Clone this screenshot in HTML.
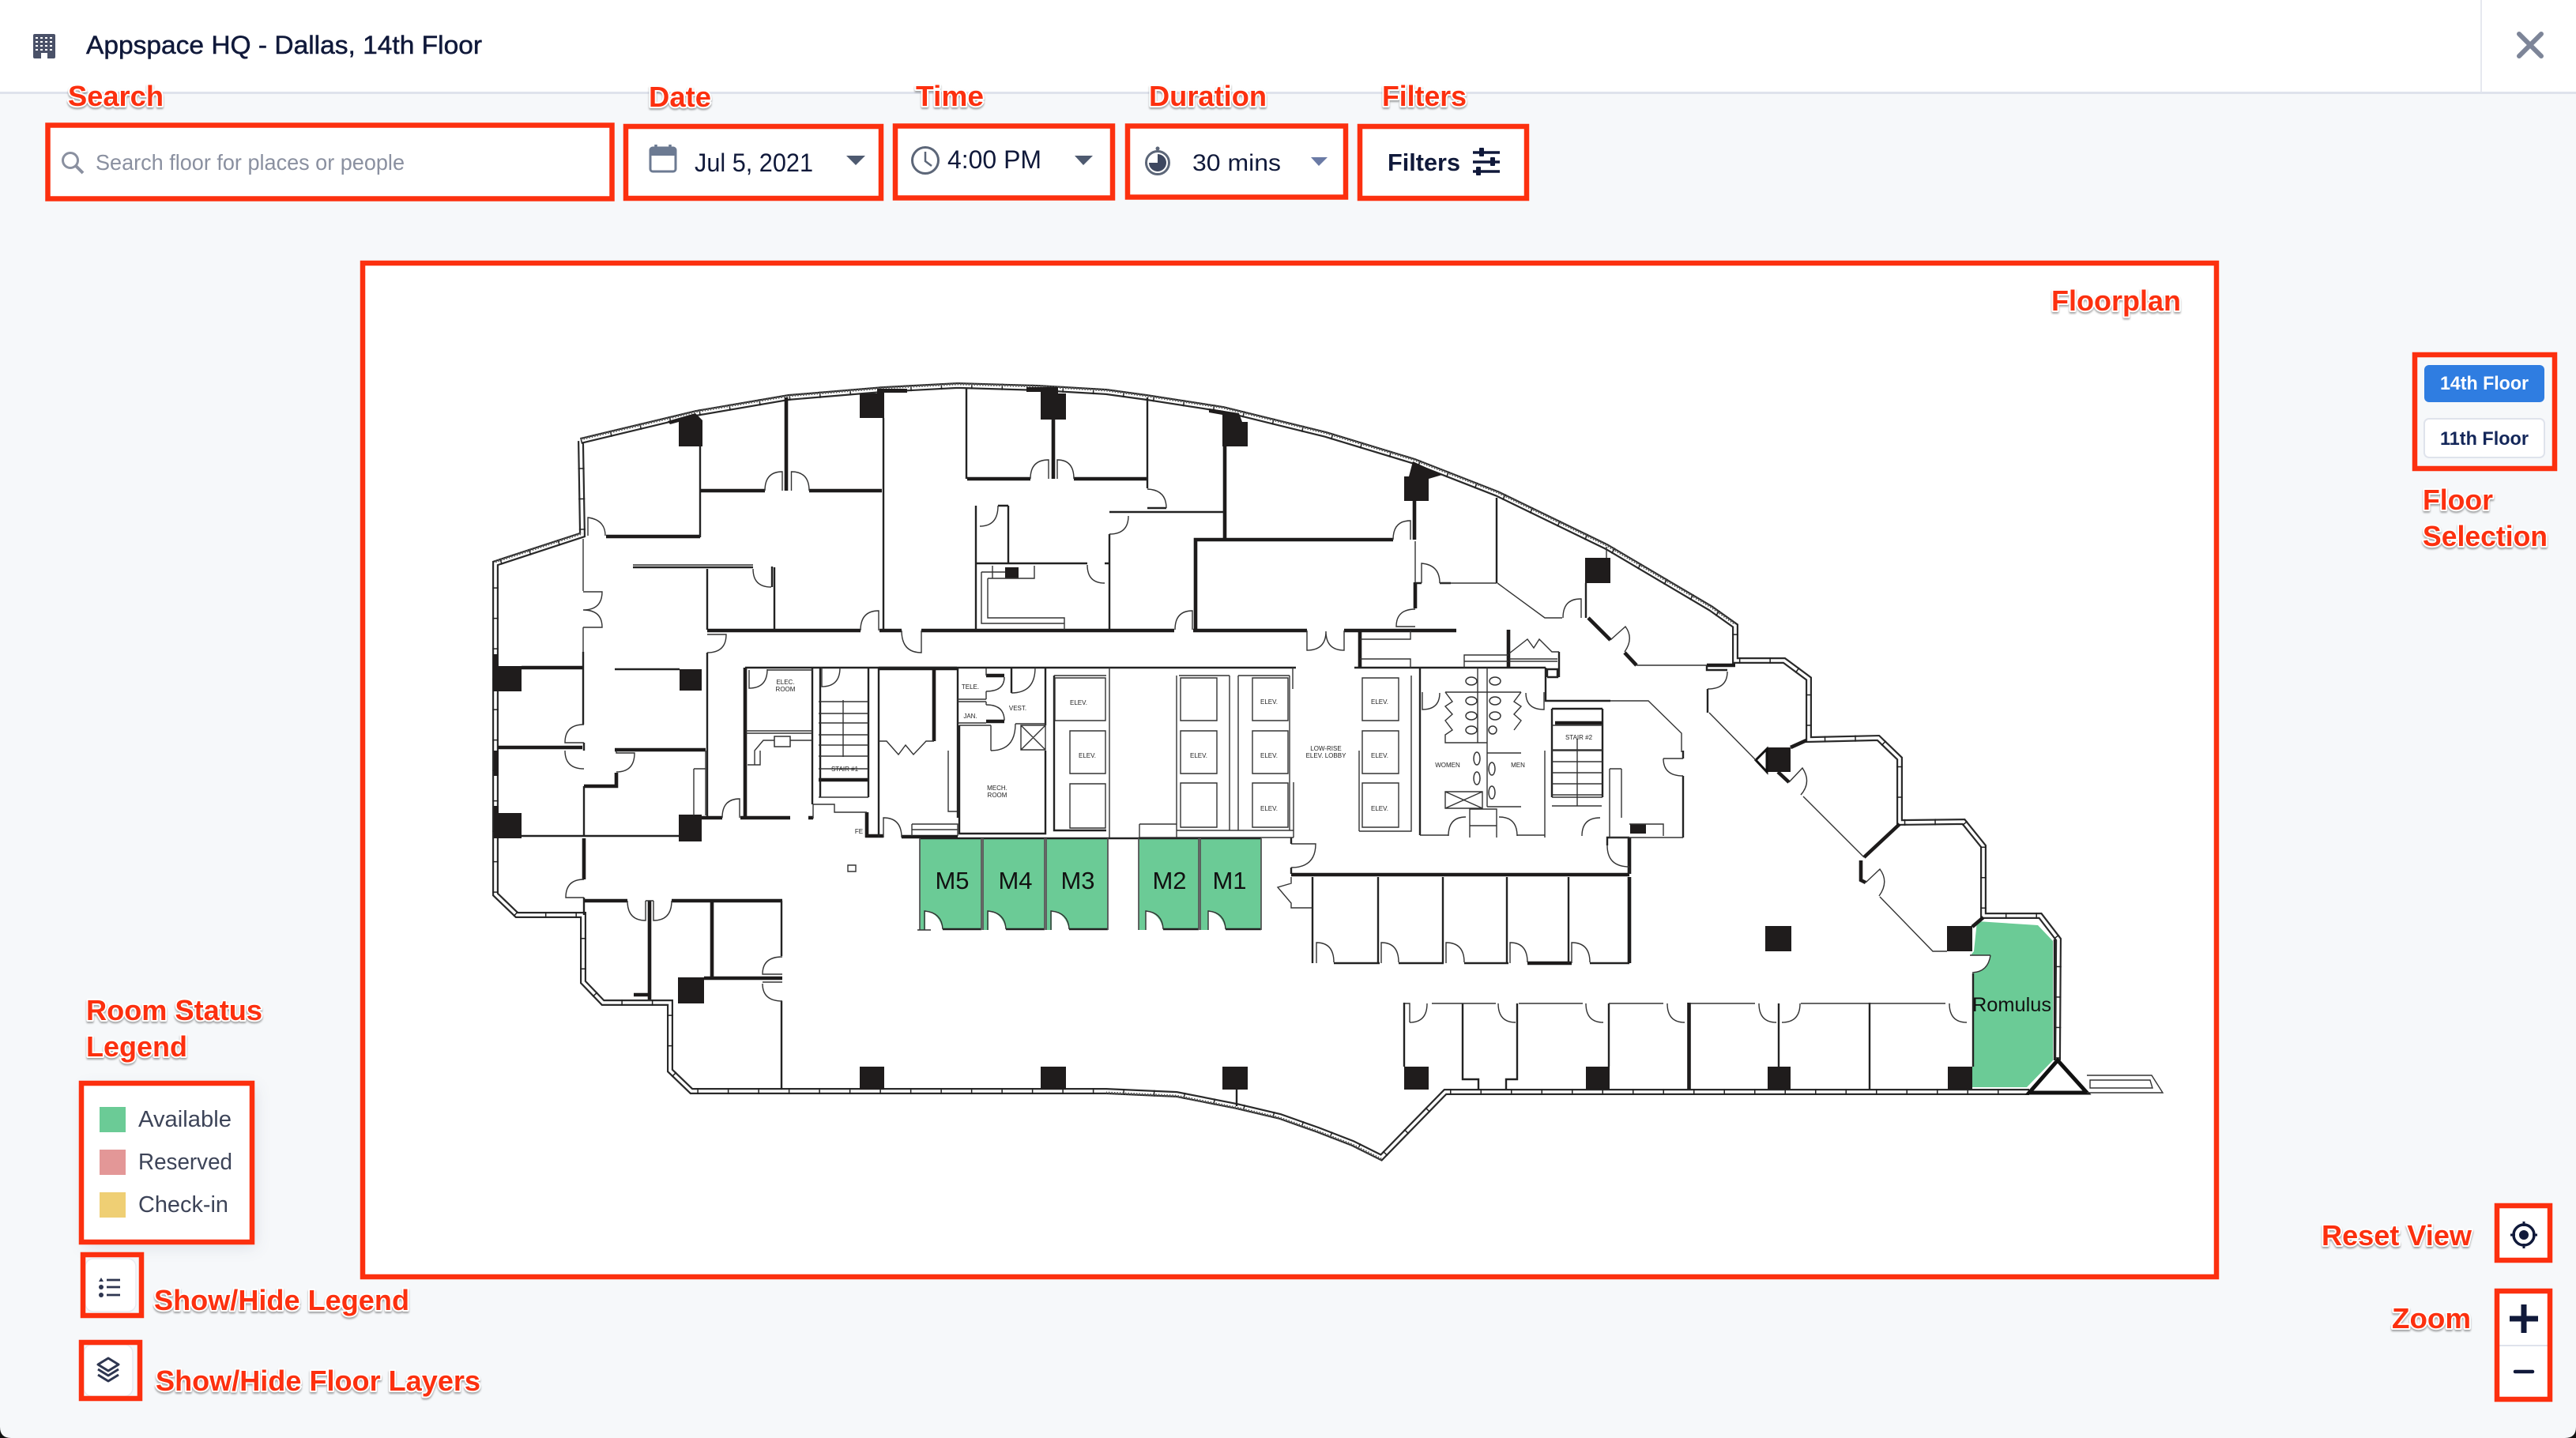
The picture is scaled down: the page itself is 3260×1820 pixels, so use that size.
<!DOCTYPE html>
<html><head><meta charset="utf-8"><title>Appspace HQ floor map</title>
<style>
html,body{margin:0;padding:0;background:#f6f8fa}
svg{display:block}
text{font-family:"Liberation Sans",sans-serif}
.l{font-weight:700;font-size:36px;fill:#fc300f;stroke:#fff;stroke-width:4px;paint-order:stroke;stroke-linejoin:round;filter:drop-shadow(0 2px 1px rgba(0,0,0,.35))}
.r{fill:none;stroke:#fc300f;stroke-width:6.5}
.a{fill:none;stroke:#333;stroke-width:1.4}
.b{fill:none;stroke:#222;stroke-width:2.4}
.c{fill:none;stroke:#1d1b1b;stroke-width:4.6}
.g{fill:none;stroke:#555;stroke-width:1.8}
.t{font-size:8px;fill:#222;text-anchor:middle}
.k{fill:#1f1c1c}
.m{font-size:31px;fill:#111;text-anchor:middle}
.u{font-size:29px;fill:#3d4458}
</style></head><body>
<svg width="3260" height="1820" viewBox="0 0 3260 1820" xmlns="http://www.w3.org/2000/svg">
<rect width="3260" height="1820" fill="#f6f8fa"/>
<rect width="3260" height="116" fill="#fff"/>
<rect y="116" width="3260" height="3" fill="#dfe3ec"/>
<rect x="3139" width="2" height="116" fill="#e6e8ef"/>
<path d="M0 1806Q0 1820 14 1820L0 1820ZM3260 1806Q3260 1820 3246 1820L3260 1820Z" fill="#111"/>

<!-- header -->
<rect x="42" y="43" width="28" height="31" rx="2" fill="#4a5168"/>
<g stroke="#fff" stroke-width="2" stroke-dasharray="3 3"><path d="M45 48H68M45 53H68M45 58H68M45 63H68"/></g>
<rect x="52" y="67" width="8" height="7" fill="#fff"/>
<text x="109" y="68" font-size="32" fill="#10193a" stroke="#10193a" stroke-width=".5" textLength="501" lengthAdjust="spacingAndGlyphs">Appspace HQ - Dallas, 14th Floor</text>
<path d="M3188 43L3216 71M3216 43L3188 71" stroke="#7d8598" stroke-width="6" stroke-linecap="round" fill="none"/>

<!-- top controls -->
<g fill="#fff">
<rect x="60" y="158" width="716" height="94"/>
<rect x="792" y="160" width="323" height="91"/>
<rect x="1133" y="159" width="275" height="92"/>
<rect x="1427" y="159" width="276" height="91"/>
<rect x="1721" y="160" width="211" height="91"/>
</g>
<circle cx="89" cy="203" r="9.5" fill="none" stroke="#8a90a0" stroke-width="3"/>
<path d="M96 210L105 219" stroke="#8a90a0" stroke-width="4"/>
<text x="121" y="215" font-size="28" fill="#8a90a0" textLength="391" lengthAdjust="spacingAndGlyphs">Search floor for places or people</text>
<rect x="823" y="187" width="32" height="30" rx="3" fill="#fff" stroke="#6c7a92" stroke-width="3"/>
<rect x="823" y="187" width="32" height="10" fill="#6c7a92"/>
<path d="M830 183V190M848 183V190" stroke="#6c7a92" stroke-width="3.5"/>
<text x="879" y="217" font-size="32" fill="#10193a" textLength="150" lengthAdjust="spacingAndGlyphs">Jul 5, 2021</text>
<path d="M1071 197H1095L1083 209Z" fill="#4e5a70"/>
<circle cx="1171" cy="203" r="16.5" fill="#fff" stroke="#5c6678" stroke-width="3"/>
<path d="M1171 192V204L1179 210" fill="none" stroke="#5c6678" stroke-width="2.5"/>
<text x="1199" y="213" font-size="32" fill="#10193a" textLength="119" lengthAdjust="spacingAndGlyphs">4:00 PM</text>
<path d="M1360 197H1383L1371 209Z" fill="#4e5a70"/>
<circle cx="1465" cy="206" r="14.5" fill="#fff" stroke="#5c6678" stroke-width="3"/>
<path d="M1465 206V195A11 11 0 1 1 1454 206Z" fill="#3e4860"/>
<circle cx="1465" cy="188" r="2.5" fill="#5c6678"/>
<text x="1509" y="216" font-size="30" fill="#10193a" textLength="112" lengthAdjust="spacingAndGlyphs">30 mins</text>
<path d="M1659 199H1680L1669 210Z" fill="#6a7aa5"/>
<text x="1756" y="216" font-size="31" font-weight="700" fill="#10193a" textLength="92" lengthAdjust="spacingAndGlyphs">Filters</text>
<g stroke="#10193a" stroke-width="3.5" fill="none"><path d="M1864 193H1898M1864 205H1898M1864 217H1898"/></g>
<g fill="#10193a"><rect x="1872" y="187" width="6" height="11" rx="1"/><rect x="1886" y="199" width="6" height="11" rx="1"/><rect x="1868" y="211" width="6" height="11" rx="1"/></g>

<rect class="r" x="60.5" y="158.5" width="714" height="93"/>
<rect class="r" x="792" y="160" width="323" height="91"/>
<rect class="r" x="1133" y="159.500" width="275" height="91"/>
<rect class="r" x="1427" y="159.500" width="276" height="90"/>
<rect class="r" x="1721" y="160" width="211" height="91"/>

<!-- floorplan panel -->
<rect x="459" y="333" width="2346" height="1283" fill="#fff"/>

<!-- green rooms -->
<g fill="#6bcb96">
<path d="M1164 1061H1242V1177H1193Q1189 1156 1171 1153V1177H1164Z"/>
<path d="M1244 1061H1322V1177H1273Q1269 1156 1251 1153V1177H1244Z"/>
<path d="M1324 1061H1402V1177H1353Q1349 1156 1331 1153V1177H1324Z"/>
<path d="M1441 1061H1517V1177H1472Q1468 1156 1450 1153V1177H1441Z"/>
<path d="M1519 1061H1596V1177H1551Q1547 1156 1529 1153V1177H1519Z"/>
<path d="M2502 1166L2579 1171L2598 1191V1342L2565 1376H2496V1232Q2516 1230 2519 1209H2494L2498 1204Z"/>
</g>

<!-- exterior double walls -->
<defs>
<path id="ow" d="M735 558L881 523L998 503L1118 493L1212 488L1314 491L1400 496L1451 503L1548 518L1678 550L1790 584L1895 625L2033 692L2165 770L2196 792V836H2258L2289 859V936L2377 934L2404 960V1041L2485 1040L2510 1071V1159H2582L2605 1189L2604 1342M2568 1382H1829L1748 1465L1712 1447L1668 1430L1620 1413L1565 1400L1489 1385L1400 1381H875L848 1355V1269H763L738 1243V1158H654L627 1132V713L737 677L735 558"/>
<path id="arc" d="M735 556L881 521L998 501L1118 491L1212 486L1314 489L1400 494L1451 501L1548 516L1678 548L1790 582L1895 623L2033 690L2165 768L2196 790M627 711L737 675M1748 1467L1712 1449L1668 1432L1620 1415L1565 1402L1489 1387L1400 1383"/>
</defs>
<use href="#ow" fill="none" stroke="#2a2a2a" stroke-width="8"/>
<use href="#ow" fill="none" stroke="#fff" stroke-width="3.6"/>
<use href="#ow" fill="none" stroke="#222" stroke-width="8" stroke-dasharray="1.5 37"/>
<use href="#arc" fill="none" stroke="#555" stroke-width="3" stroke-dasharray="1.500 2"/>

<!-- far right balcony + triangle -->
<path d="M2604 1342L2568 1383H2641Z" fill="#fff" stroke="#111" stroke-width="5"/>
<path class="a" d="M2641 1361H2723L2737 1383H2641M2645 1367H2721L2724 1377H2645Z"/>

<!-- columns -->
<g class="k">
<path d="M859 534V565H889V532L880 523L845 533L848 537Z"/>
<path d="M1088 498H1110V492H1148V497H1119V529H1088Z"/>
<path d="M1299 490H1339V498H1349V531H1317V496H1299Z"/>
<path d="M1530 517L1568 523L1572 534H1579V565H1547V525L1530 522Z"/>
<path d="M1788 584L1825 601L1808 606V634H1777V603H1783Z"/>
<rect x="2006" y="706" width="32" height="32"/>
<path d="M624 828H630V843H660V875H630V875H624Z"/>
<rect x="860" y="847" width="28" height="27"/>
<rect x="625" y="950" width="6" height="32"/>
<path d="M625 1020H631V1029H660V1061H625Z"/>
<rect x="859" y="1031" width="29" height="34"/>
<rect x="858" y="1237" width="33" height="33"/>
<rect x="1088" y="1350" width="31" height="29"/>
<rect x="1317" y="1350" width="32" height="29"/>
<rect x="1547" y="1350" width="32" height="29"/>
<rect x="1777" y="1350" width="31" height="29"/>
<rect x="2007" y="1350" width="30" height="29"/>
<rect x="2237" y="1350" width="29" height="29"/>
<rect x="2465" y="1350" width="31" height="29"/>
<rect x="2234" y="1172" width="33" height="32"/>
<rect x="2464" y="1172" width="32" height="32"/>
<rect x="2236" y="946" width="30" height="31"/>
<rect x="1272" y="718" width="17" height="14"/>
<rect x="2063" y="1043" width="20" height="12"/>
</g>
<path d="M2222 962L2236 948V977Z" fill="#fff" stroke="#111" stroke-width="3"/>

<!-- thick interior walls -->
<path class="c" d="M767 679H886M887 621H968M1024 621H1116M1224 606H1304M1359 606H1451M995 503V621M1333 531V606M1550 565V683M1513 797V683H1763M1790 634V683M1791 737V770M895 798H1089M1113 798H1141M1166 798H1486M1510 798H1654M1701 798H1843M660 845H737M630 946H737M778 949H893M1112 846H1211M1182 846V938M1721 798V845M1909 797V845M2010 782L2038 810M2056 826L2071 842M2160 842H2196M2250 977L2264 990M2359 1085L2404 1043M2355 1089V1114L2361 1117M2496 1173L2510 1161M2266 946L2286 937M943 845V1033M888 1035H914M937 1035H1000M1023 1035H1029M1097 1028V1060M1095 1058H1118M1141 1059H1212M739 995H780V978M739 1061V1113M740 1140H794M850 1140H990M891 1238H990M802 1259H822V1265M901 1140V1237M822 1140V1258M2062 1060V1106M2062 1110V1219M1634 1107H2062M1933 1219H1989M2137.500 1269V1379M1248 855H1271M1248 913H1271M1968 915H2028M1036 987H1099"/>

<!-- medium walls -->
<path class="b" d="M886 565V680M1118 529V797M1223 492V606M1452 503V618M1404 648H1549M1404 676V797M1452 643H1476M2007 738V782M1894 630V738M1799 738H1791M1822 738H1836M2160 842V848H2186M2161 872V902M2600 1342V1189M801 718H953M895 720V797M980 718V797M977 717V743M895 826V1033M778 847H860M738 825V917M739 940V950M739 995V1058M660 1058H859M739 1136V1158M989 1140V1210M989 1267V1379M2130 950V960M2130 982V1060M1964 897H2028M1964 897V1009M2028 897V1009M2062 1060H2034V1070M2062 1097V1106M1634 1060V1068M1634 1098V1106M1661 1110V1219M1744 1110V1219M1826 1110V1219M1907 1110V1219M1985 1110V1219M1688 1219H1746M1770 1219H1827M1853 1219H1909M2012 1219H2062M2036 1270V1350M2251 1270V1350M1851 1270V1366H1871V1379M1920 1270V1366H1906V1379M2366 1269V1379M1777 1269V1350M2497 1232V1350M1164 1061H1596M1193 1176H1242M1273 1176H1322M1353 1176H1402M1472 1176H1517M1551 1176H1596M1028 845V1018M1038 845V1009M1112 846V1060M1099 846V1009M1212 846V1035M1214 918V1055H1323V950M1323 845V918M1334 855V1051H1400M1280 845V877M943 845H1640M1714 845H1956M1956 845V887H2038M1797 845V1057M1235 640V797M1276 640V713M1263 640H1276M1235 713H1376M1398 713H1404M1973 825V857M1958 857H1971V847H1958V857M1565 1379V1400"/>

<!-- green-room partitions -->
<path class="g" d="M1164 1061V1177M1242 1061V1177M1244 1061V1177M1322 1061V1177M1324 1061V1177M1402 1061V1177M1441 1061V1177M1517 1061V1177M1519 1061V1177M1596 1061V1177"/>

<!-- thin walls + fittings -->
<path class="a" d="M738 682V748M738 794V825M1791 685V737M1822 738H1894M1895 738L1955 782H1977M2071 842H2160M2163 902L2222 962M2282 1008L2359 1085M2379 1135L2446 1204H2464M2038 887H2086L2128 928V952M1784 1294V1270H1777M1812 1270H1893M1922 1270H2003M2036 1270H2105M2138 1270H2221M2279 1270H2462M1154 1043H1212V1058M1154 1043V1058M1154 1050H1212M1200 950V1027H1211M878 973V1032M893 950V1032M878 973H893M946 968H962V950M955 968V950L966 937H1028M944 925H1028M944 928H1028M1036 888H1099M1036 903H1099M1036 915H1099M1036 930H1099M1036 943H1099M1036 957H1099M1036 973H1099M1036 1009H1099M1029 1018H1056V1028H1097M1029 1018V1036M1067 886V958M1212 885H1248M1212 888H1248M1212 915H1248M1248 846V855M1248 875V885M1248 888V892M1254 918V950M1214 918H1254M1285 916H1323M1112 938H1122L1137 955L1146 943L1156 955L1172 938H1182M1292 918H1323V949H1292ZM1292 918L1323 949M1323 918L1292 949M1335 858H1399V912H1335ZM1354 925H1399V979H1354ZM1354 992H1399V1048H1354ZM1494 858H1540V912H1494ZM1494 925H1540V979H1494ZM1494 991H1540V1047H1494ZM1585 858H1630V912H1585ZM1585 925H1630V979H1585ZM1585 991H1630V1047H1585ZM1724 858H1770V912H1724ZM1724 925H1770V979H1724ZM1724 991H1770V1047H1724ZM1334 855H1400M1404 845V1061M1489 855V1060M1556 855V1051M1567 855V1051M1632 855V1051M1492 855H1556M1567 855H1632M1636 845V872M1632 965V1008M1637 990V1060M1489 1051H1637M1442 1060H1637M1442 1043V1060M1442 1043H1489M1720 950V1052M1786 855V1052H1720M1721 809H1785V798M1721 834H1785V845M1829 876H1925M1829 876L1838 888L1829 894L1838 904L1829 912L1838 924L1829 930V940H1882M1925 876L1916 888L1925 894L1916 904L1925 912L1916 924M1870 845V940M1882 845V1021M1882 953H1925M1882 1021H1925M1829 1002H1876V1023H1829ZM1829 1002L1876 1023M1876 1002L1829 1023M1860 1024H1894V1045H1860ZM1860 1045V1060M1894 1045V1060M1797 1057H1833M1920 1057H1955M1955 950V1060M2037 973V1060M2052 973V1035M2037 973H2052M1964 1009H2028M1964 1020H2027M1964 950H2028M1964 964H2028M1964 978H2028M1964 992H2028M1964 1006H2028M1996 935V1020M1964 918H2028M1964 949H2028M2062 1043H2105V1058M2105 960H2130M2130 1060H2037M1634 1110V1118L1617 1123L1634 1143V1149H1661M1161 1177H1178M2033 692V706M801 715H953M1029 848H971M1073 1095H1083V1103H1073ZM1242 724V789H1347M1242 724H1272M1250 732V782H1347V797M1250 732H1309V716M1256 716V732M1853 845V829H1909M1853 837H1909M1910 834H1971M1910 837H1971M1910 827L1933 809L1941 820L1948 809L1964 825H1973"/>

<!-- door swings -->
<path class="a" d="M744 678V655Q766 658 766 678M968 621Q968 597 990 597V621M1001.500 621V597Q1024 597 1024 621M1304 606Q1304 582 1327 582V606M1338 606V582Q1359 582 1359 606M1452 619Q1476 620 1476 643M1428 653Q1428 676 1404 676M1487 797Q1487 773 1509 773V797M1785 683V659Q1763 659 1763 683M1791 771Q1767 771 1767 793H1791M1799 738V713Q1822 715 1822 738M1978 782Q1978 758 2000 758H2001V782M2038 810L2057 793Q2068 808 2056 825M2186 850Q2186 872 2161 872M2264 990L2281 972Q2293 990 2279 1006M2361 1117L2379 1100Q2391 1116 2378 1134M2519 1209Q2516 1230 2496 1231M2519 1209H2493M738 749H762Q762 772 738 772Q762 772 762 794H738M895 803H919Q919 826 895 826M953 720Q953 743 976 743M1089 798Q1089 773 1112 773V798M1141 798Q1141 826 1166 826V798M1654 798V823Q1678 823 1678 799Q1678 823 1701 823V798M739 917Q715 917 715 940H739M739 973Q715 973 715 950M780 977Q803 977 803 953H780V950M914 1035Q914 1011 936 1011V1035M1118 1060V1035Q1141 1035 1141 1060M794 1140Q794 1165 817 1165V1140M827 1140V1165Q850 1165 850 1140M817 1140H827M739 1113Q716 1113 716 1136H739M990 1211Q965 1211 965 1233H990M965 1243H990M965 1245Q965 1267 990 1267M948 848V871Q971 871 971 847M1040 845V869Q1063 869 1063 845M1248 875Q1271 875 1271 857M1248 892Q1271 892 1271 912M1280 877Q1310 877 1310 845M1254 950Q1285 950 1285 916M1800 876V898Q1822 898 1822 877M1954 876V898Q1931 898 1931 877M1634 1068H1665Q1665 1098 1634 1098M2034 1070Q2034 1097 2062 1097M1833 1058Q1833 1034 1855 1034M1897 1034Q1920 1034 1920 1058M2002 1058Q2002 1035 2025 1035M2105 960Q2105 982 2130 982M1666 1219V1193Q1688 1193 1688 1218M1748 1219V1193Q1770 1193 1770 1218M1830 1219V1193Q1853 1193 1853 1218M1911 1219V1193Q1933 1193 1933 1218M1989 1219V1193Q2012 1193 2012 1218M1784 1294Q1806 1294 1806 1270M1896 1270Q1896 1294 1918 1294M2007 1270Q2007 1294 2029 1294M2110 1270Q2110 1294 2132 1294M2226 1270Q2226 1294 2248 1294M2255 1294Q2278 1294 2278 1270M2467 1270Q2467 1294 2489 1294M1170 1177V1153Q1192 1155 1193 1176M1250 1177V1153Q1272 1155 1273 1176M1330 1177V1153Q1352 1155 1353 1176M1450 1177V1153Q1471 1155 1472 1176M1529 1177V1153Q1550 1155 1551 1176M1263 640Q1263 666 1240 666M1376 715Q1376 738 1398 738"/>

<!-- toilets & sinks -->
<g fill="#fff" stroke="#333" stroke-width="1.5">
<ellipse cx="1862" cy="862" rx="7" ry="5"/><ellipse cx="1892" cy="862" rx="7" ry="5"/>
<ellipse cx="1862" cy="887" rx="7" ry="5"/><ellipse cx="1892" cy="887" rx="7" ry="5"/>
<ellipse cx="1862" cy="906" rx="7" ry="5"/><ellipse cx="1892" cy="906" rx="7" ry="5"/>
<ellipse cx="1862" cy="924" rx="7" ry="5"/><ellipse cx="1889" cy="924" rx="5" ry="5"/>
<ellipse cx="1869" cy="960" rx="4" ry="8"/><ellipse cx="1869" cy="985" rx="4" ry="8"/>
<ellipse cx="1888" cy="973" rx="4" ry="8"/><ellipse cx="1888" cy="1003" rx="4" ry="8"/>
<rect x="980" y="932" width="20" height="13"/>
</g>

<!-- plan labels -->
<text class="t" x="994" y="866">ELEC.</text><text class="t" x="994" y="875">ROOM</text>
<text class="t" x="1228" y="872">TELE.</text><text class="t" x="1228" y="909">JAN.</text>
<text class="t" x="1288" y="899">VEST.</text>
<text class="t" x="1365" y="892">ELEV.</text><text class="t" x="1376" y="959">ELEV.</text>
<text class="t" x="1517" y="959">ELEV.</text><text class="t" x="1606" y="891">ELEV.</text><text class="t" x="1606" y="959">ELEV.</text>
<text class="t" x="1746" y="891">ELEV.</text><text class="t" x="1746" y="959">ELEV.</text>
<text class="t" x="1606" y="1026">ELEV.</text><text class="t" x="1746" y="1026">ELEV.</text>
<text class="t" x="1678" y="950">LOW-RISE</text><text class="t" x="1678" y="959">ELEV. LOBBY</text>
<text class="t" x="1069" y="976">STAIR #1</text><text class="t" x="1998" y="936">STAIR #2</text>
<text class="t" x="1262" y="1000">MECH.</text><text class="t" x="1262" y="1009">ROOM</text>
<text class="t" x="1087" y="1055">FE</text>
<text class="t" x="1832" y="971">WOMEN</text><text class="t" x="1921" y="971">MEN</text>

<!-- room names -->
<text class="m" x="1205" y="1125">M5</text>
<text class="m" x="1285" y="1125">M4</text>
<text class="m" x="1364" y="1125">M3</text>
<text class="m" x="1480" y="1125">M2</text>
<text class="m" x="1556" y="1125">M1</text>
<text x="2496" y="1280" font-size="25" fill="#111" textLength="100" lengthAdjust="spacingAndGlyphs">Romulus</text>

<rect class="r" x="459" y="333" width="2346" height="1283"/>

<!-- floor selector -->
<rect x="3056" y="449" width="177" height="144" fill="#f6f8fa"/>
<rect x="3068" y="462" width="152" height="47" rx="6" fill="#2f7de1"/>
<rect x="3068" y="530" width="152" height="49" rx="6" fill="#fff" stroke="#dfe3ec" stroke-width="2"/>
<text x="3088" y="493" font-size="24" font-weight="700" fill="#fff" textLength="112" lengthAdjust="spacingAndGlyphs">14th Floor</text>
<text x="3088" y="563" font-size="24" font-weight="700" fill="#14275a" textLength="112" lengthAdjust="spacingAndGlyphs">11th Floor</text>
<rect class="r" x="3056" y="449" width="177" height="144"/>

<!-- legend -->
<rect x="103" y="1371" width="216" height="201" fill="#fff" style="filter:drop-shadow(4px 6px 10px rgba(40,50,90,.12))"/>
<rect x="126" y="1401" width="33" height="32" fill="#6bcb96"/>
<rect x="126" y="1455" width="33" height="32" fill="#e39797"/>
<rect x="126" y="1509" width="33" height="32" fill="#efcf74"/>
<text class="u" x="175" y="1426" textLength="118" lengthAdjust="spacingAndGlyphs">Available</text>
<text class="u" x="175" y="1480" textLength="119" lengthAdjust="spacingAndGlyphs">Reserved</text>
<text class="u" x="175" y="1534" textLength="114" lengthAdjust="spacingAndGlyphs">Check-in</text>
<rect class="r" x="103" y="1371" width="216" height="201"/>

<!-- legend toggle -->
<rect x="108" y="1593" width="64" height="67" rx="10" fill="#fff" stroke="#e8ebf1" stroke-width="1.5"/>
<path d="M135 1620H152M135 1629H152M135 1639H152" stroke="#2e3650" stroke-width="2.8" fill="none"/>
<path d="M128 1617L131 1622H125Z" fill="#2e3650"/><circle cx="128" cy="1629" r="3" fill="#2e3650"/><circle cx="128" cy="1639" r="3" fill="#2e3650"/>
<rect class="r" x="105" y="1588" width="74" height="77"/>

<!-- layers toggle -->
<rect x="106" y="1702" width="62" height="65" rx="10" fill="#fff" stroke="#e8ebf1" stroke-width="1.5"/>
<path d="M137 1719L150 1727L137 1735L124 1727ZM124 1733L137 1741L150 1733M124 1740L137 1748L150 1740" fill="none" stroke="#2e3650" stroke-width="3" stroke-linejoin="round"/>
<rect class="r" x="103" y="1699" width="74" height="71"/>

<!-- right controls -->
<rect x="3160" y="1526" width="67" height="69" fill="#fff"/>
<circle cx="3194" cy="1563" r="13" fill="none" stroke="#10193a" stroke-width="3.500"/>
<circle cx="3194" cy="1563" r="6" fill="#10193a"/>
<path d="M3194 1546V1552M3194 1574V1580M3177 1563H3183M3205 1563H3211" stroke="#10193a" stroke-width="3"/>
<rect class="r" x="3160" y="1526" width="67" height="69"/>
<rect x="3160" y="1634" width="67" height="137" fill="#fff"/>
<path d="M3163 1703H3224" stroke="#dfe3ec" stroke-width="2"/>
<path d="M3176 1669H3212M3194 1651V1687" stroke="#10193a" stroke-width="7" fill="none"/>
<path d="M3183 1736H3205" stroke="#10193a" stroke-width="4.500" stroke-linecap="round"/>
<rect class="r" x="3160" y="1634" width="67" height="137"/>

<!-- annotation labels -->
<text class="l" x="86" y="134" textLength="121" lengthAdjust="spacingAndGlyphs">Search</text>
<text class="l" x="821" y="135" textLength="79" lengthAdjust="spacingAndGlyphs">Date</text>
<text class="l" x="1159" y="134" textLength="86" lengthAdjust="spacingAndGlyphs">Time</text>
<text class="l" x="1454" y="134" textLength="149" lengthAdjust="spacingAndGlyphs">Duration</text>
<text class="l" x="1749" y="134" textLength="107" lengthAdjust="spacingAndGlyphs">Filters</text>
<text class="l" x="2596" y="393" textLength="164" lengthAdjust="spacingAndGlyphs">Floorplan</text>
<text class="l" x="3066" y="645" textLength="89" lengthAdjust="spacingAndGlyphs">Floor</text>
<text class="l" x="3066" y="691" textLength="158" lengthAdjust="spacingAndGlyphs">Selection</text>
<text class="l" x="109" y="1291" textLength="223" lengthAdjust="spacingAndGlyphs">Room Status</text>
<text class="l" x="109" y="1337" textLength="128" lengthAdjust="spacingAndGlyphs">Legend</text>
<text class="l" x="195" y="1658" textLength="323" lengthAdjust="spacingAndGlyphs">Show/Hide Legend</text>
<text class="l" x="197" y="1760" textLength="411" lengthAdjust="spacingAndGlyphs">Show/Hide Floor Layers</text>
<text class="l" x="2938" y="1576" textLength="190" lengthAdjust="spacingAndGlyphs">Reset View</text>
<text class="l" x="3027" y="1681" textLength="100" lengthAdjust="spacingAndGlyphs">Zoom</text>
</svg>
</body></html>
